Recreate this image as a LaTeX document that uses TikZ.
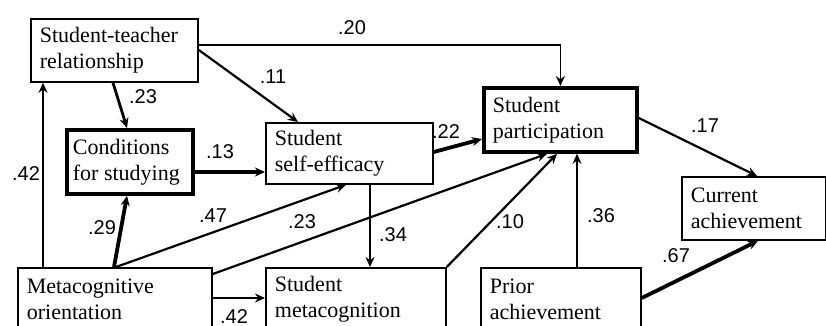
\documentclass[tikz,border=0pt]{standalone}
\usepackage{fontspec}
\setmainfont{Liberation Serif}
\newfontfamily\numfont{Liberation Sans}
\usetikzlibrary{arrows.meta,calc}

\begin{document}
\begin{tikzpicture}[x=0.5pt,y=-0.5pt,
  box/.style 2 args={draw,line width=0.9pt,anchor=north west,text width=#1,
    minimum height=#2,inner xsep=4.5pt,inner ysep=0pt,align=flush left,
    font=\fontsize{11}{13}\selectfont},
  heavy/.style={line width=1.9pt},
  arr/.style={-{Stealth[length=5pt,width=4.5pt]},line width=1.1pt},
  wt/.style={font=\numfont\fontsize{10}{11}\selectfont,inner sep=0pt}]
\clip (0,0) rectangle (826,326);
% boxes
\node[box={74.5pt}{31.5pt}] (st) at (30,18) {Student-teacher\\relationship};
\node[box={57pt}{32pt},heavy,inner xsep=3pt] (cond) at (65,128) {Conditions\\for studying};
\node[box={74.5pt}{30.5pt}] (eff) at (265,122) {Student\\self-efficacy};
\node[box={67.5pt}{32pt},heavy] (part) at (482,86) {Student\\participation};
\node[box={63pt}{31.5pt}] (cur) at (681,176) {Current\\achievement};
\node[box={88pt}{31pt}] (meta) at (17,267) {Metacognitive\\orientation};
\node[box={81pt}{31pt}] (mcog) at (265,267) {Student\\metacognition};
\node[box={71pt}{31pt}] (prior) at (480,267) {Prior\\achievement};
% paths
\draw[arr,line width=0.7pt] ($(st.north east)+(0,27)$) -| (part.north);
\draw[arr] ($(st.north east)+(0,32)$) -- ($(eff.north west)+(33,0)$);
\draw[arr,line width=1.4pt] ($(st.south west)+(83,0)$) -- ($(cond.north west)+(62,0)$);
\draw[arr,heavy] ($(cond.north east)+(0,44)$) -- ($(eff.north west)+(0,50)$);
\draw[arr,heavy] ($(eff.north east)+(0,30)$) -- ($(part.north west)+(0,53)$);
\draw[arr] ($(meta.north west)+(26,0)$) -- ($(st.south west)+(13,0)$);
\draw[arr,heavy] ($(meta.north west)+(97,0)$) -- ($(cond.south west)+(62,0)$);
\draw[arr] ($(meta.north west)+(99,0)$) -- ($(eff.south west)+(81,0)$);
\draw[arr] ($(meta.north east)+(0,7)$) -- ($(part.south west)+(65,0)$);
\draw[arr] ($(meta.north east)+(0,31)$) -- ($(mcog.north west)+(0,31)$);
\draw[arr] ($(eff.south west)+(105,0)$) -- ($(mcog.north west)+(105,0)$);
\draw[arr] (mcog.north east) -- ($(part.south west)+(75,0)$);
\draw[arr] ($(prior.north west)+(97,0)$) -- ($(part.south west)+(95,0)$);
\draw[arr,heavy] ($(prior.north east)+(0,31)$) -- ($(cur.south west)+(77,0)$);
\draw[arr] ($(part.north east)+(0,32)$) -- ($(cur.north west)+(76,0)$);
% weights
\node[wt] (w20) at (352,28) {.20};
\node[wt] (w11) at (273,77) {.11};
\node[wt] (w23a) at (143,97) {.23};
\node[wt] (w13) at (220,152) {.13};
\node[wt] (w22) at (446,132) {.22};
\node[wt] (w42a) at (26,174) {.42};
\node[wt] (w29) at (102,228) {.29};
\node[wt] (w47) at (213,216) {.47};
\node[wt] (w23b) at (302,222) {.23};
\node[wt] (w34) at (393,235) {.34};
\node[wt] (w10) at (510,222) {.10};
\node[wt] (w36) at (601,216) {.36};
\node[wt] (w17) at (705,126) {.17};
\node[wt] (w67) at (676,256) {.67};
\node[wt] (w42b) at (234,317) {.42};
\end{tikzpicture}
\end{document}
